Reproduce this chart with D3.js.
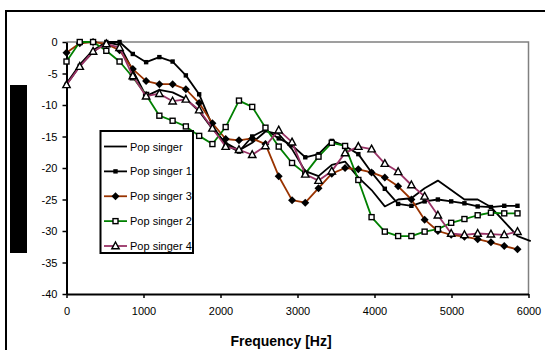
<!DOCTYPE html>
<html>
<head>
<meta charset="utf-8">
<script src="https://cdn.jsdelivr.net/npm/d3@7"></script>
<style>
  body { margin: 0; background: #fff; }
  text { font-family: "Liberation Sans", Arial, sans-serif; }
</style>
</head>
<body>
<svg id="chart" width="545" height="350"></svg>
<script>
// frequency bins (Hz)
var freqs = [0, 172, 345, 517, 689, 861, 1034, 1206, 1378, 1550, 1723, 1895, 2067, 2240,
    2412, 2584, 2756, 2929, 3101, 3273, 3445, 3618, 3790, 3962, 4134, 4307, 4479, 4651,
    4823, 4996, 5168, 5340, 5512, 5685, 5857, 6029];

var popSinger = [-6.6, -3.6, -1.3, 0, -0.5, -4.5, -8.6, -7.6, -8.0, -9.0, -11.0, -13.8, -16.0,
    -17.2, -16.0, -14.2, -14.6, -17.0, -20.5, -21.3, -19.5, -19.0, -21.5, -23.5, -26.1, -25.0,
    -24.8, -23.2, -22.0, -23.5, -25.0, -25.0, -26.2, -28.5, -30.8, -31.6];
var popSinger1 = [-6.8, -3.8, -1.6, 0, 0, -1.9, -3.2, -2.4, -3.1, -5.3, -8.3, -13.3, -16.3,
    -17.4, -15.0, -13.9, -15.3, -16.4, -18.3, -17.8, -15.7, -16.5, -17.8, -20.7, -23.3, -25.7,
    -26.0, -25.3, -25.0, -25.3, -25.6, -26.1, -26.2, -26.0, -26.0];
var popSinger3 = [-1.7, -0.2, 0, -0.3, -1.3, -4.3, -6.2, -6.7, -6.7, -7.5, -9.7, -12.9, -15.4,
    -15.6, -15.3, -16.2, -21.3, -25.1, -25.5, -23.2, -20.9, -20.0, -20.2, -20.7, -21.5, -22.9,
    -25.0, -28.2, -30.0, -30.6, -30.9, -31.3, -31.8, -32.4, -32.9];
var popSinger2 = [-3.1, 0, 0, -1.4, -3.1, -5.6, -8.4, -11.7, -12.5, -13.4, -14.9, -16.2, -13.5,
    -9.3, -10.3, -13.6, -16.6, -19.2, -20.9, -18.2, -16.0, -16.5, -21.9, -27.8, -30.1, -30.8,
    -30.8, -30.1, -29.7, -28.7, -28.1, -27.5, -27.1, -27.2, -27.2];
var popSinger4 = [-6.8, -3.9, -1.5, -0.3, -0.9, -5.4, -8.6, -8.2, -9.4, -9.1, -10.8, -13.7, -16.6,
    -17.1, -17.9, -16.5, -14.0, -15.9, -21.0, -22.0, -20.5, -17.6, -16.6, -17.0, -19.3, -20.6,
    -22.7, -24.5, -27.5, -30.4, -30.6, -30.4, -30.5, -30.6, -30.1];

var seriesNames = ['Pop singer', 'Pop singer 1', 'Pop singer 3', 'Pop singer 2', 'Pop singer 4'];
var xTicks = [0, 1000, 2000, 3000, 4000, 5000, 6000];
var yTicks = [0, -5, -10, -15, -20, -25, -30, -35, -40];

var series = [
    {name: seriesNames[0], values: popSinger, color: '#000000', marker: 'none'},
    {name: seriesNames[1], values: popSinger1, color: '#000000', marker: 'smallSquare'},
    {name: seriesNames[2], values: popSinger3, color: '#993300', marker: 'diamond'},
    {name: seriesNames[3], values: popSinger2, color: '#008000', marker: 'openSquare'},
    {name: seriesNames[4], values: popSinger4, color: '#993366', marker: 'triangle'}
];

var svg = d3.select('#chart');

// outer chart frame (cropped at right and bottom)
svg.append('path')
    .attr('d', 'M6,351V11H546')
    .attr('fill', 'none')
    .attr('stroke', '#000')
    .attr('stroke-width', 2);

// blacked-out y axis title
svg.append('rect')
    .attr('x', 10).attr('y', 85)
    .attr('width', 17).attr('height', 168)
    .attr('fill', '#000');

var xScale = d3.scaleLinear().domain([0, 6000]).range([66.5, 528.5]);
var yScale = d3.scaleLinear().domain([-40, 0]).range([294, 42]);

// plot area border (grey top/right)
svg.append('path')
    .attr('d', 'M' + xScale(0) + ',' + yScale(0) + 'H' + xScale(6000) + 'V' + yScale(-40))
    .attr('fill', 'none')
    .attr('stroke', '#808080')
    .attr('stroke-width', 1.5);

var yAxis = d3.axisLeft(yScale).tickValues(yTicks).tickSize(4).tickSizeOuter(0)
    .tickPadding(5).tickFormat(function(d) { return String(d); });
var xAxis = d3.axisBottom(xScale).tickValues(xTicks).tickSize(4).tickSizeOuter(0)
    .tickPadding(9).tickFormat(function(d) { return String(d); });

var gy = svg.append('g')
    .attr('transform', 'translate(' + xScale(0) + ',0)')
    .call(yAxis);
var gx = svg.append('g')
    .attr('transform', 'translate(0,' + yScale(-40) + ')')
    .call(xAxis);

[gx, gy].forEach(function(g) {
    g.select('.domain').attr('stroke', '#000').attr('stroke-width', 2);
    g.selectAll('.tick line').attr('stroke', '#000').attr('stroke-width', 1.5);
    g.selectAll('.tick text')
        .attr('fill', '#000')
        .style('font-family', '"Liberation Sans", Arial, sans-serif')
        .style('font-size', '11px');
});

svg.append('text')
    .attr('x', 281).attr('y', 346)
    .attr('text-anchor', 'middle')
    .style('font-size', '14px')
    .style('font-weight', 'bold')
    .text('Frequency [Hz]');

function drawMarker(sel, type) {
    if (type === 'smallSquare') {
        sel.append('rect').attr('x', -2.2).attr('y', -2.2).attr('width', 4.4).attr('height', 4.4)
            .attr('fill', '#000');
    } else if (type === 'diamond') {
        sel.append('path').attr('d', 'M0,-4L4,0L0,4L-4,0Z').attr('fill', '#000');
    } else if (type === 'openSquare') {
        sel.append('rect').attr('x', -2.5).attr('y', -2.5).attr('width', 5).attr('height', 5)
            .attr('fill', '#fff').attr('stroke', '#000').attr('stroke-width', 1.4);
    } else if (type === 'triangle') {
        sel.append('path').attr('d', 'M0,-4L3.7,2.8L-3.7,2.8Z')
            .attr('fill', '#fff').attr('stroke', '#000').attr('stroke-width', 1.4);
    }
}

var line = d3.line()
    .x(function(d) { return xScale(d.f); })
    .y(function(d) { return yScale(d.v); });

series.forEach(function(s) {
    var pts = s.values.map(function(v, i) { return {f: freqs[i], v: v}; });
    var g = svg.append('g').attr('class', 'series');
    g.append('path')
        .datum(pts)
        .attr('d', line)
        .attr('fill', 'none')
        .attr('stroke', s.color)
        .attr('stroke-width', 1.8)
        .attr('stroke-linejoin', 'round');
    if (s.marker !== 'none') {
        g.selectAll('.mk')
            .data(pts)
            .enter()
            .append('g')
            .attr('class', 'mk')
            .attr('transform', function(d) {
                return 'translate(' + xScale(d.f) + ',' + yScale(d.v) + ')';
            })
            .each(function() { drawMarker(d3.select(this), s.marker); });
    }
});

// legend
var legend = svg.append('g');
legend.append('rect')
    .attr('x', 100.5).attr('y', 131)
    .attr('width', 92.5).attr('height', 122)
    .attr('fill', '#fff')
    .attr('stroke', '#000')
    .attr('stroke-width', 2);

var legendY = d3.scalePoint().domain(seriesNames).range([146.5, 246]);

series.forEach(function(s) {
    var ly = legendY(s.name);
    var item = legend.append('g');
    item.append('line')
        .attr('x1', 104).attr('x2', 127)
        .attr('y1', ly).attr('y2', ly)
        .attr('stroke', s.color)
        .attr('stroke-width', 1.8);
    var mk = item.append('g').attr('transform', 'translate(115.5,' + ly + ')');
    drawMarker(mk, s.marker);
    item.append('text')
        .attr('x', 130).attr('y', ly + 4)
        .style('font-size', '11px')
        .attr('fill', '#000')
        .text(s.name);
});
</script>
</body>
</html>
